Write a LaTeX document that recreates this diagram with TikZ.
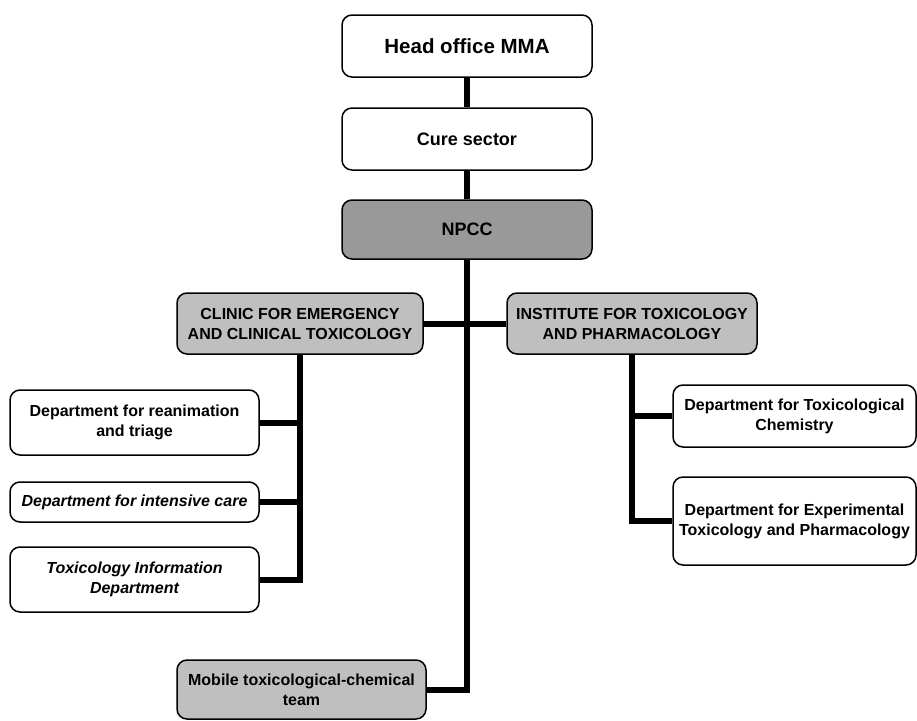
\documentclass[tikz,border=0pt]{standalone}
\usepackage{fontspec}
\setmainfont{Liberation Sans}
\begin{document}
\begin{tikzpicture}[x=1pt,y=-1pt,
  box/.style={draw=black, line width=1.5pt, rounded corners=10pt, fill=white, align=center,
    inner sep=2pt, font=\bfseries\fontsize{16}{20}\selectfont},
  darkbox/.style={box, fill=black!40},
  lightbox/.style={box, fill=black!25},
  conn/.style={line width=6pt, black}]
\useasboundingbox (0,0) rectangle (917,720);
% nodes
\node[box, minimum width=250pt, minimum height=62pt, font=\bfseries\fontsize{20.5}{24}\selectfont] (head) at (467,46) {Head office MMA};
\node[box, minimum width=250pt, minimum height=62pt, font=\bfseries\fontsize{18}{22}\selectfont] (cure) at (467,139) {Cure sector};
\node[darkbox, minimum width=250pt, minimum height=59pt, font=\bfseries\fontsize{18}{22}\selectfont] (npcc) at (467,229.5) {NPCC};
\node[lightbox, minimum width=246pt, minimum height=61pt] (clinic) at (300,323.5) {CLINIC FOR EMERGENCY\\AND CLINICAL TOXICOLOGY};
\node[lightbox, minimum width=250pt, minimum height=61pt] (inst) at (632,323.5) {INSTITUTE FOR TOXICOLOGY\\AND PHARMACOLOGY};
\node[box, minimum width=249pt, minimum height=65pt] (rean) at (134.5,422.5) {Department for reanimation\\and triage};
\node[box, minimum width=249pt, minimum height=40pt, font=\bfseries\itshape\fontsize{16}{20}\selectfont] (icu) at (134.5,502) {Department for intensive care};
\node[box, minimum width=249pt, minimum height=65pt, font=\bfseries\itshape\fontsize{16}{20}\selectfont] (info) at (134.5,579.5) {Toxicology Information\\Department};
\node[box, minimum width=243pt, minimum height=62pt] (chem) at (794.5,416) {Department for Toxicological\\Chemistry};
\node[box, minimum width=243pt, minimum height=88pt] (exp) at (794.5,521) {Department for Experimental\\Toxicology and Pharmacology};
\node[lightbox, minimum width=249pt, minimum height=59pt] (mobile) at (301.5,689.5) {Mobile toxicological-chemical\\team};
% connectors
\begin{scope}[on background layer/.try]
\end{scope}
\draw[conn] (head.south) -- (cure.north);
\draw[conn] (cure.south) -- (npcc.north);
\draw[conn] (npcc.south) |- (mobile.east);
\draw[conn] (clinic.east) -- (inst.west);
\draw[conn] (clinic.south) |- (info.east);
\draw[conn] (clinic.south |- rean.east) -- (rean.east);
\draw[conn] (clinic.south |- icu.east) -- (icu.east);
\draw[conn] (inst.south) |- (exp.west);
\draw[conn] (inst.south |- chem.west) -- (chem.west);
\end{tikzpicture}
\end{document}
